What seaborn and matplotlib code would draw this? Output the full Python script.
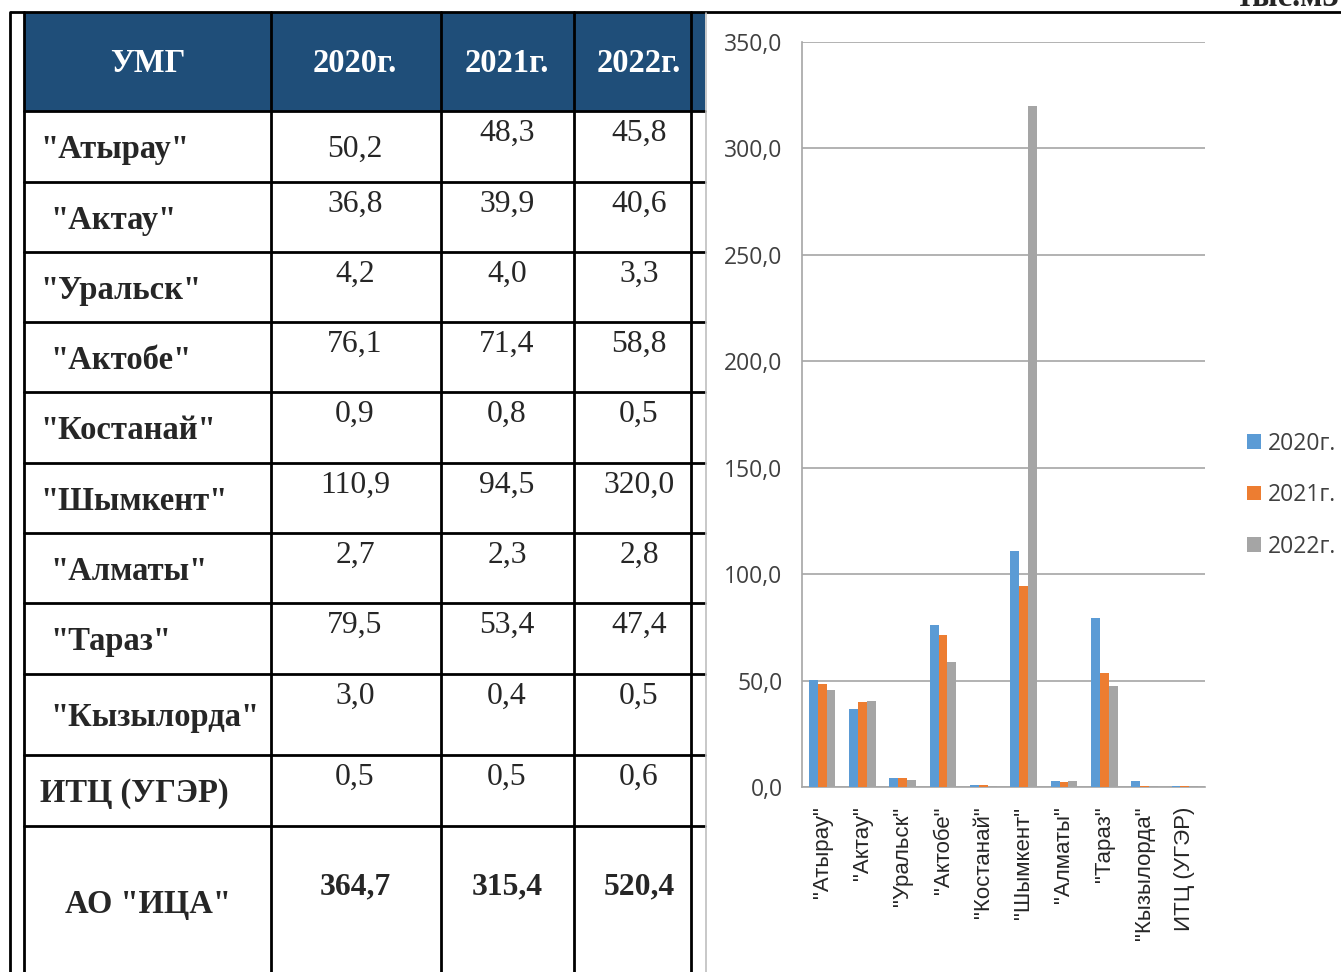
import matplotlib
matplotlib.use("Agg")
import matplotlib.pyplot as plt
from matplotlib.patches import Rectangle, Patch
import numpy as np
import pandas as pd
import seaborn as sns

# ---------------- data ----------------
umg = ['"Атырау"', '"Актау"', '"Уральск"', '"Актобе"', '"Костанай"',
       '"Шымкент"', '"Алматы"', '"Тараз"', '"Кызылорда"', 'ИТЦ (УГЭР)']
years = ['2020г.', '2021г.', '2022г.']
v2020 = [50.2, 36.8, 4.2, 76.1, 0.9, 110.9, 2.7, 79.5, 3.0, 0.5]
v2021 = [48.3, 39.9, 4.0, 71.4, 0.8, 94.5, 2.3, 53.4, 0.4, 0.5]
v2022 = [45.8, 40.6, 3.3, 58.8, 0.5, 320.0, 2.8, 47.4, 0.5, 0.6]
total_label = 'АО "ИЦА"'
totals = [364.7, 315.4, 520.4]
header_first = 'УМГ'
unit_text = 'тыс.м3'
y_ticks = [0, 50, 100, 150, 200, 250, 300, 350]

def fmt(v):
    return f"{v:.1f}".replace('.', ',')

# ---------------- style ----------------
sns.set_theme(style="white")
plt.rcParams['font.family'] = ['Liberation Sans', 'DejaVu Sans']

W, H = 1341, 972
fig = plt.figure(figsize=(W / 100, H / 100), dpi=100)
fig.patch.set_facecolor('white')

# ---------------- table (pixel coordinates) ----------------
tab = fig.add_axes([0, 0, 1, 1])
tab.set_xlim(0, W)
tab.set_ylim(H, 0)
tab.axis('off')

col_x = [24, 271, 441, 574, 691, 705]
row_y = [13, 111, 182, 252, 322, 392, 463, 533, 603, 674, 755, 826, 1000]
val_cx = [355, 507, 639]
blue = '#1F4E79'
serif = ['Liberation Serif', 'DejaVu Serif']
fs_lab = 23.5
fs_val = 22.8

tab.add_patch(Rectangle((24, 13), 705 - 24, 111 - 13, color=blue, lw=0, zorder=1))

lw = 2.0
# horizontal lines
tab.plot([10, W], [12, 12], color='black', lw=lw, zorder=3, solid_capstyle='butt')
for y in row_y[1:-1]:
    tab.plot([24, 705], [y, y], color='black', lw=lw, zorder=3)
# vertical lines
tab.plot([10, 10], [12, H], color='black', lw=lw, zorder=3)
for x in col_x[:-1]:
    tab.plot([x, x], [12, H], color='black', lw=lw, zorder=3)
# chart frame
tab.plot([706, 706], [13, H], color='#BFBFBF', lw=1.2, zorder=3)

# header
hdr_cx = [148] + val_cx
for cx, t in zip(hdr_cx, [header_first] + years):
    tab.text(cx, 64, t, ha='center', va='center', color='white',
             fontsize=fs_lab, fontweight='bold', family=serif, zorder=4)

indent = [0, 1, 0, 1, 0, 0, 1, 1, 1, 0]
vals = [v2020, v2021, v2022]
for i, lab in enumerate(umg):
    top, bot = row_y[i + 1], row_y[i + 2]
    cy = (top + bot) / 2
    tab.text(40 + 10 * indent[i], cy + 3, lab, ha='left', va='center',
             fontsize=fs_lab, fontweight='bold', family=serif, zorder=4)
    for j in range(3):
        vy = top + 22
        if i == 0 and j == 0:
            vy = cy + 3
        tab.text(val_cx[j], vy, fmt(vals[j][i]), ha='center', va='center',
                 fontsize=fs_val, family=serif, zorder=4)

tab.text(148, 904, total_label, ha='center', va='center', fontsize=fs_lab,
         fontweight='bold', family=serif, zorder=4)
for j in range(3):
    tab.text(val_cx[j], 887, fmt(totals[j]), ha='center', va='center',
             fontsize=fs_val, fontweight='bold', family=serif, zorder=4)

tab.text(W - 2, 6, unit_text, ha='right', va='baseline', fontsize=fs_lab,
         fontweight='bold', family=serif, zorder=4)

# ---------------- chart ----------------
L, R, T, B = 802, 1205, 42, 787
ax = fig.add_axes([L / W, 1 - B / H, (R - L) / W, (B - T) / H])

df = pd.DataFrame({
    'УМГ': umg * 3,
    'year': [years[0]] * len(umg) + [years[1]] * len(umg) + [years[2]] * len(umg),
    'value': v2020 + v2021 + v2022,
})
colors = ['#5B9BD5', '#ED7D31', '#A5A5A5']
sns.barplot(data=df, x='УМГ', y='value', hue='year', order=umg, hue_order=years,
            palette=colors, saturation=1, width=0.66, gap=0, linewidth=0,
            legend=False, ax=ax, zorder=3)

grey = '#A6A6A6'
ax.set_ylim(0, 350)
ax.set_xlim(-0.5, len(umg) - 0.5)
ax.set_yticks(y_ticks)
ax.set_yticklabels([fmt(v) for v in y_ticks], family=['Open Sans', 'DejaVu Sans'],
                   fontsize=16.5, color='#404040')
ax.yaxis.grid(True, color=grey, lw=1.2, zorder=0)
ax.set_axisbelow(True)
ax.tick_params(axis='y', length=6, width=1.2, color=grey, direction='out', pad=8)
ax.set_xlabel('')
ax.set_ylabel('')
ax.set_xticks(range(len(umg)))
ax.set_xticklabels(umg, rotation=90, fontsize=16, color='#262626',
                   family=['Liberation Sans', 'DejaVu Sans'])
ax.tick_params(axis='x', which='major', length=0, pad=14)
ax.set_xticks(np.arange(-0.5, len(umg), 1.0), minor=True)
ax.tick_params(axis='x', which='minor', length=6, width=1.2, color=grey, direction='out')
for s in ['top', 'right']:
    ax.spines[s].set_visible(False)
for s in ['left', 'bottom']:
    ax.spines[s].set_color(grey)
    ax.spines[s].set_linewidth(1.2)
ax.set_facecolor('none')

handles = [Patch(facecolor=c, edgecolor='none') for c in colors]
ax.legend(handles, years, loc='center left', bbox_to_anchor=(1247 / W, 1 - 495 / H),
          bbox_transform=fig.transFigure, frameon=False, handlelength=0.6,
          handleheight=0.6, handletextpad=0.3, labelspacing=1.2,
          borderpad=0, borderaxespad=0,
          prop={'family': ['Open Sans', 'DejaVu Sans'], 'size': 16.5}, labelcolor='#404040')

fig.savefig('out.png', dpi=100)
